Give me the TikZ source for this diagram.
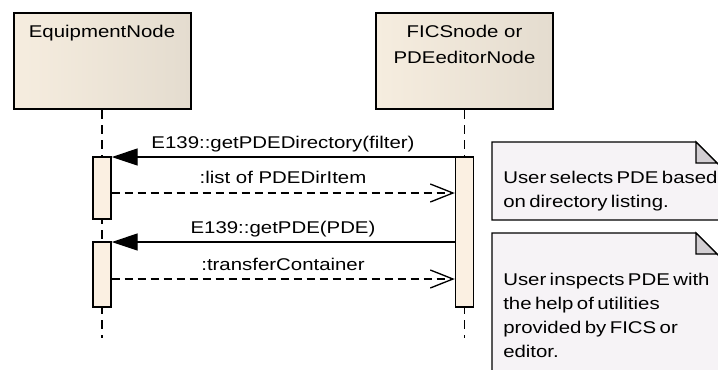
\documentclass[tikz,border=0pt]{standalone}
\usepackage{fontspec}
\setmainfont{Liberation Sans}[FakeStretch=1.2]
\newfontfamily\notefont{Liberation Sans}[FakeStretch=1.2,WordSpace=0.6]
\usetikzlibrary{arrows.meta,calc}
\definecolor{boxlight}{RGB}{246,237,223}
\definecolor{boxdark}{RGB}{228,220,207}
\definecolor{actfill}{RGB}{251,240,226}
\definecolor{notefill}{RGB}{246,243,246}
\definecolor{foldfill}{RGB}{210,206,210}
\begin{document}
\begin{tikzpicture}[x=0.75pt,y=-0.75pt,
  font=\fontsize{12.75}{19}\selectfont,
  actor/.style={draw=black,line width=1.5pt,left color=boxlight,right color=boxdark,
    minimum width=132.75pt,minimum height=72pt,inner sep=0pt},
  actortext/.style={anchor=base,align=center,inner sep=0pt},
  lifeline/.style={line width=1.1pt,dash pattern=on 6.75pt off 4.5pt},
  activation/.style={draw=black,line width=1.1pt,fill=actfill,minimum width=13.5pt,inner sep=0pt},
  call/.style={line width=1pt,-{Triangle[length=19.5pt,width=12.75pt]}},
  reply/.style={line width=1pt,dash pattern=on 6pt off 3.75pt,
    -{Straight Barb[length=17pt,width=13.5pt,line width=1pt]}},
  msglabel/.style={anchor=base,inner sep=0pt},
  notebox/.style={draw=black,line width=1pt,fill=notefill},
  fold/.style={draw=black,line width=1pt,fill=foldfill},
  notetext/.style={anchor=base west,align=left,inner sep=0pt,
    font=\notefont\fontsize{12.75}{18}\selectfont},
]
\useasboundingbox (0,0) rectangle (718,369);
\clip (0,0) rectangle (718,369);

% lifeline heads (a multi-line node sits on the baseline of its last line)
\node[actor] (eq) at (102,61) {};
\node[actor] (fics) at (464.5,61) {};
\node[actortext] (eqt) at (102,37.5) {EquipmentNode};
\node[actortext] (ficst) at (464.5,63) {FICSnode or\\PDEeditorNode};

% lifeline ends
\coordinate (eqend) at (102,338);
\coordinate (ficsend) at (464.5,338);
\draw[lifeline] (eq.south) -- (eqend);
\draw[lifeline] (fics.south) -- (ficsend);

% activation bars
\node[activation,minimum height=46.5pt] (a1) at (102,188) {};
\node[activation,minimum height=48.75pt] (a2) at (102,274.5) {};
\node[activation,minimum height=112.5pt] (ra) at (464.5,232) {};

% message rows
\coordinate (r1) at (0,157);
\coordinate (r2) at (0,193);
\coordinate (r3) at (0,242);
\coordinate (r4) at (0,279);

\draw[call] (ra.west |- r1) -- (a1.east |- r1);
\draw[reply] (a1.east |- r2) -- (ra.west |- r2);
\draw[call] (ra.west |- r3) -- (a2.east |- r3);
\draw[reply] (a2.east |- r4) -- (ra.west |- r4);

\node[msglabel] (l1) at (283,148) {E139::getPDEDirectory(filter)};
\node[msglabel] (l2) at (283,183) {:list of PDEDirItem};
\node[msglabel] (l3) at (283,233) {E139::getPDE(PDE)};
\node[msglabel] (l4) at (283,270) {:transferContainer};

% notes with folded corner
\draw[notebox] (492,142) -- (696,142) -- (724,170) -- (724,220) -- (492,220) -- cycle;
\draw[fold] (696,142) -- (696,163) -- (717,163) -- cycle;
\node[notetext] (n1) at (503,207) {User selects PDE based\\on directory listing.};

\draw[notebox] (492,233) -- (696,233) -- (724,261) -- (724,380) -- (492,380) -- cycle;
\draw[fold] (696,233) -- (696,254) -- (717,254) -- cycle;
\node[notetext] (n2) at (503,357) {User inspects PDE with\\the help of utilities\\provided by FICS or\\editor.};
\end{tikzpicture}
\end{document}
